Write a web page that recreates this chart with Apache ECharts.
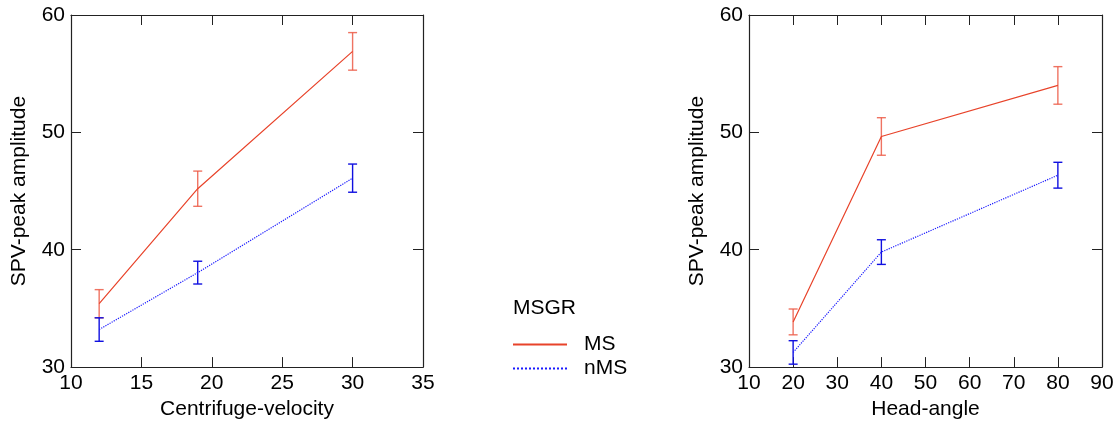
<!DOCTYPE html>
<html>
<head>
<meta charset="utf-8">
<script src="https://cdn.jsdelivr.net/npm/echarts@6/dist/echarts.min.js"></script>
<style>
  html, body { margin: 0; padding: 0; background: #fff; }
  #chart { width: 1118px; height: 425px; }
</style>
</head>
<body>
<div id="chart"></div>
<script>
// Centrifuge-velocity panel
const velocity = [12, 19, 30];
const velMS = [35.4, 45.2, 56.9];
const velMSErr = [1.2, 1.5, 1.6];
const velNMS = [33.2, 38.05, 46.1];
const velNMSErr = [1.0, 0.97, 1.2];

// Head-angle panel
const angle = [20, 40, 80];
const angMS = [33.85, 49.65, 54.0];
const angMSErr = [1.1, 1.6, 1.6];
const angNMS = [31.25, 39.8, 46.35];
const angNMSErr = [1.0, 1.05, 1.1];

const yTicks = [30, 40, 50, 60];
const groupLabel = 'MSGR';
const groupNames = ['MS', 'nMS'];

const FONT = 'Liberation Sans, Arial, sans-serif';
const FS = 21;
const RED = '#e8432a';
const RED_BAR = 'rgba(236,90,70,0.85)';
const BLUE = '#1a1aff';
const BLUE_BAR = '#1010e0';
const AXIS = '#222';

function pairs(xs, ys) { return xs.map((x, i) => [x, ys[i]]); }
function bars(xs, ys, es) { return xs.map((x, i) => [x, ys[i] - es[i], ys[i] + es[i]]); }

function errorSeries(xIdx, data, color) {
  return {
    type: 'custom',
    xAxisIndex: xIdx,
    yAxisIndex: xIdx,
    silent: true,
    z: 3,
    data: data,
    renderItem: function (params, api) {
      const lo = api.coord([api.value(0), api.value(1)]);
      const hi = api.coord([api.value(0), api.value(2)]);
      const hw = 4.5;
      const style = { stroke: color, lineWidth: 1.4 };
      return {
        type: 'group',
        children: [
          { type: 'line', shape: { x1: lo[0], y1: lo[1], x2: hi[0], y2: hi[1] }, style },
          { type: 'line', shape: { x1: lo[0] - hw, y1: lo[1], x2: lo[0] + hw, y2: lo[1] }, style },
          { type: 'line', shape: { x1: hi[0] - hw, y1: hi[1], x2: hi[0] + hw, y2: hi[1] }, style }
        ]
      };
    }
  };
}

function lineSeries(name, xIdx, data, color, type) {
  return {
    name: name,
    type: 'line',
    xAxisIndex: xIdx,
    yAxisIndex: xIdx,
    data: data,
    symbol: 'none',
    z: 4,
    lineStyle: { color: color, width: 1.2, type: type },
    itemStyle: { color: color }
  };
}

const tickLabel = { color: '#000', fontSize: FS, fontFamily: FONT };
const nameStyle = { color: '#000', fontSize: FS, fontFamily: FONT };

function xAxes(gridIndex, min, max, interval, name) {
  return [
    {
      type: 'value', gridIndex, min, max, interval,
      name, nameLocation: 'middle', nameGap: 29,
      nameTextStyle: nameStyle,
      axisLine: { lineStyle: { color: AXIS, width: 1.2 } },
      axisTick: { inside: true, length: 10, lineStyle: { color: AXIS } },
      axisLabel: Object.assign({ margin: 6 }, tickLabel),
      splitLine: { show: false }
    },
    {
      type: 'value', gridIndex, min, max, interval, position: 'top',
      axisLine: { onZero: false, lineStyle: { color: AXIS, width: 1.2 } },
      axisTick: { inside: true, length: 10, lineStyle: { color: AXIS } },
      axisLabel: { show: false },
      splitLine: { show: false }
    }
  ];
}

function yAxes(gridIndex) {
  return [
    {
      type: 'value', gridIndex, min: yTicks[0], max: yTicks[yTicks.length - 1], interval: 10,
      name: 'SPV-peak amplitude', nameLocation: 'middle', nameGap: 41,
      nameTextStyle: nameStyle,
      axisLine: { show: true, lineStyle: { color: AXIS, width: 1.2 } },
      axisTick: { show: true, inside: true, length: 10, lineStyle: { color: AXIS } },
      axisLabel: Object.assign({ margin: 6 }, tickLabel),
      splitLine: { show: false }
    },
    {
      type: 'value', gridIndex, min: yTicks[0], max: yTicks[yTicks.length - 1], interval: 10,
      position: 'right',
      axisLine: { show: true, onZero: false, lineStyle: { color: AXIS, width: 1.2 } },
      axisTick: { show: true, inside: true, length: 10, lineStyle: { color: AXIS } },
      axisLabel: { show: false },
      splitLine: { show: false }
    }
  ];
}

const xa = [].concat(xAxes(0, 10, 35, 5, 'Centrifuge-velocity'), xAxes(1, 10, 90, 10, 'Head-angle'));
const ya = [].concat(yAxes(0), yAxes(1));
// Data series sit on x axes 0 / 2 and y axes 0 / 2
function idx(panel) { return panel * 2; }

const option = {
  animation: false,
  backgroundColor: '#fff',
  textStyle: { fontFamily: FONT },
  title: {
    text: groupLabel, left: 508, top: 293,
    textStyle: { color: '#000', fontSize: FS, fontWeight: 'normal', fontFamily: FONT }
  },
  legend: {
    orient: 'vertical', left: 507, top: 329,
    itemWidth: 54, itemHeight: 14, itemGap: 3,
    itemStyle: { opacity: 0 },
    textStyle: { color: '#000', fontSize: FS, fontFamily: FONT, padding: [0, 0, 0, 12] },
    data: groupNames
  },
  grid: [
    { left: 71, top: 15, width: 352, height: 353 },
    { left: 749, top: 15, width: 353, height: 353 }
  ],
  xAxis: xa,
  yAxis: ya,
  series: [
    lineSeries(groupNames[0], idx(0), pairs(velocity, velMS), RED, 'solid'),
    lineSeries(groupNames[1], idx(0), pairs(velocity, velNMS), BLUE, 'dotted'),
    errorSeries(idx(0), bars(velocity, velMS, velMSErr), RED_BAR),
    errorSeries(idx(0), bars(velocity, velNMS, velNMSErr), BLUE_BAR),
    lineSeries(groupNames[0], idx(1), pairs(angle, angMS), RED, 'solid'),
    lineSeries(groupNames[1], idx(1), pairs(angle, angNMS), BLUE, 'dotted'),
    errorSeries(idx(1), bars(angle, angMS, angMSErr), RED_BAR),
    errorSeries(idx(1), bars(angle, angNMS, angNMSErr), BLUE_BAR)
  ]
};

const chart = echarts.init(document.getElementById('chart'), null, { renderer: 'canvas' });
chart.setOption(option);
</script>
</body>
</html>
